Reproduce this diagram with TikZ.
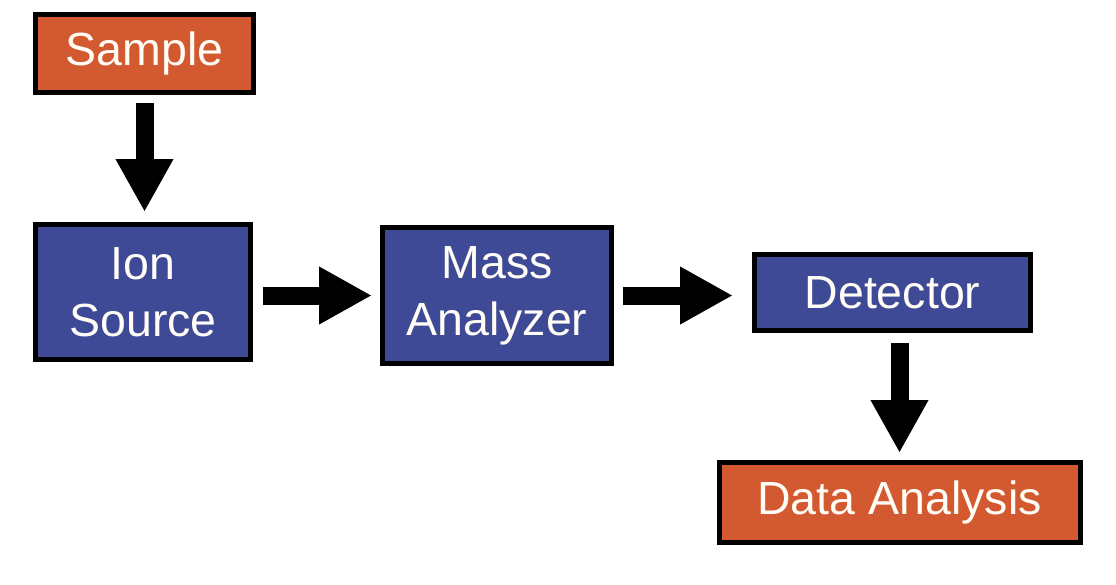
\documentclass[tikz,border=0pt]{standalone}
\usepackage{fontspec}
\setmainfont{Liberation Sans}
\usetikzlibrary{arrows.meta}
\definecolor{boxorange}{HTML}{D35A30}
\definecolor{boxblue}{HTML}{3F4A97}
\definecolor{txtwhite}{HTML}{FFFDF5}
\begin{document}
\begin{tikzpicture}[x=1pt,y=-1pt,
  box/.style={draw=black, line width=5pt, text=txtwhite, inner sep=0pt, align=center,
    font=\fontsize{46.5}{57}\selectfont},
  orangebox/.style={box, fill=boxorange},
  bluebox/.style={box, fill=boxblue},
  bigarrow/.style={line width=18pt, line cap=butt, -{Triangle[width=54pt,length=53pt]}}]
\useasboundingbox (0,0) rectangle (1116,584);
\node[orangebox, minimum width=218pt, minimum height=78pt] (sample) at (144.5,53.5) {Sample};
\node[bluebox, minimum width=215pt, minimum height=135pt] (ion) at (143,292) {Ion\\Source};
\node[bluebox, minimum width=229pt, minimum height=136pt] (mass) at (497,295.5) {Mass\\Analyzer};
\node[bluebox, minimum width=276pt, minimum height=76pt] (det) at (892.5,292.5) {Detector};
\node[orangebox, minimum width=361pt, minimum height=80pt] (data) at (899.5,502.5) {Data Analysis};
\draw[bigarrow, shorten <=8pt, shorten >=10pt] (sample.south) -- (ion.north -| sample.south);
\draw[bigarrow, shorten <=10pt, shorten >=8pt] (ion.east |- mass.west) -- (mass.west);
\draw[bigarrow, shorten <=9pt, shorten >=19pt] (mass.east) -- (mass.east -| det.west);
\draw[bigarrow, shorten <=10pt, shorten >=7pt] (det.south -| data.north) -- (data.north);
\end{tikzpicture}
\end{document}
